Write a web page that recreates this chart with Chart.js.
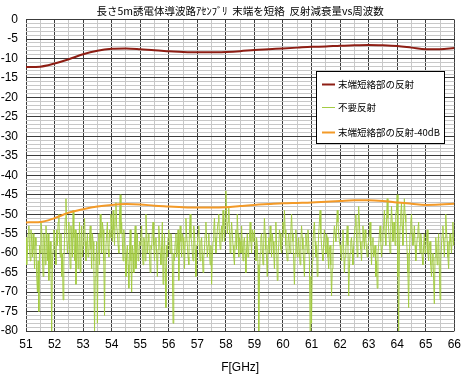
<!DOCTYPE html>
<html lang="ja">
<head>
    <meta charset="UTF-8">
    <title>反射減衰量vs周波数</title>
    <script src="https://cdn.jsdelivr.net/npm/chart.js"></script>
    <style>
        body {
            margin: 0;
            background-color: white;
        }

        #chart-container {
            width: 467px;
            height: 375px;
        }
    </style>
</head>
<body>
    <div id="chart-container">
        <canvas id="returnLossChart" width="467" height="375"></canvas>
    </div>
    <script>
        // 末端短絡部の反射 (dB) read at these frequencies (GHz)
        const shortFreq = [51, 51.5, 52, 52.5, 53, 53.5, 54, 54.5, 55, 55.5, 56, 56.5, 57, 57.5, 58, 58.5,
            59, 59.5, 60, 60.5, 61, 61.5, 62, 62.5, 63, 63.5, 64, 64.5, 65, 65.5, 66];
        const shortDb = [-12.2, -12.1, -11.3, -10.2, -8.9, -8.0, -7.5, -7.4, -7.6, -7.9, -8.1, -8.3, -8.4, -8.4, -8.3, -8.1,
            -7.8, -7.6, -7.4, -7.2, -7.0, -6.9, -6.7, -6.6, -6.5, -6.6, -6.8, -7.2, -7.6, -7.6, -7.3];

        // 末端短絡部の反射-40dB
        const shiftedDb = [-52.1, -52.0, -51.0, -49.6, -48.7, -48.0, -47.6, -47.4, -47.5, -47.8, -48.0, -48.2, -48.3, -48.3, -48.2, -47.9,
            -47.6, -47.4, -47.2, -47.1, -47.0, -46.8, -46.6, -46.4, -46.4, -46.6, -47.0, -47.3, -47.6, -47.5, -47.3];

        // 不要反射, one value every 0.025 GHz from 51 GHz (one row per GHz)
        const spurStartGHz = 51;
        const spurStepGHz = 0.025;
        const spurDb = [
            -56, -63, -60, -55, -53, -59, -62, -54, -57, -61, -55, -59, -64, -56, -58, -66, -70, -62, -75, -58, -60, -52, -54, -61, -66, -55, -58, -63, -53, -57, -62, -55, -67, -60, -57, -64, -80, -62, -59, -54,
            -55, -60, -63, -54, -58, -52, -50, -57, -61, -55, -66, -60, -72, -63, -56, -51, -46, -55, -60, -57, -52, -59, -64, -53, -57, -61, -49, -56, -62, -54, -68, -60, -55, -64, -59, -52, -65, -58, -53, -61,
            -58, -54, -51, -57, -62, -58, -55, -61, -60, -56, -53, -59, -64, -55, -57, -62, -80, -66, -62, -57, -78, -60, -55, -63, -50, -56, -60, -52, -54, -62, -76, -60, -58, -55, -52, -59, -61, -54, -56, -50,
            -53, -57, -49, -54, -58, -51, -47, -53, -55, -58, -60, -50, -45, -55, -52, -57, -62, -54, -56, -61, -66, -60, -58, -63, -69, -59, -54, -62, -70, -58, -60, -65, -57, -53, -64, -59, -55, -62, -61, -57,
            -58, -55, -53, -60, -63, -56, -57, -62, -50, -54, -60, -57, -55, -61, -65, -58, -59, -54, -52, -58, -62, -57, -56, -60, -66, -59, -53, -56, -60, -63, -58, -52, -68, -61, -55, -64, -74, -58, -61, -56,
            -54, -58, -60, -55, -57, -63, -78, -60, -62, -57, -55, -61, -59, -54, -67, -58, -53, -57, -61, -55, -56, -59, -64, -57, -51, -55, -58, -61, -63, -54, -50, -56, -57, -60, -62, -53, -55, -59, -66, -58,
            -58, -55, -53, -59, -62, -57, -56, -60, -65, -61, -59, -55, -52, -57, -61, -58, -55, -60, -63, -58, -68, -61, -57, -54, -51, -56, -60, -57, -54, -52, -50, -56, -59, -55, -53, -57, -49, -53, -57, -51,
            -44, -50, -55, -52, -48, -54, -60, -56, -52, -55, -58, -61, -63, -57, -54, -59, -50, -55, -61, -56, -57, -60, -53, -58, -62, -57, -56, -60, -65, -59, -55, -61, -59, -56, -52, -57, -60, -54, -57, -55,
            -54, -58, -62, -56, -58, -63, -80, -66, -60, -56, -55, -59, -63, -57, -51, -55, -59, -61, -66, -58, -56, -60, -53, -57, -61, -55, -57, -60, -64, -57, -52, -58, -67, -61, -58, -54, -55, -59, -60, -56,
            -52, -55, -49, -54, -58, -60, -62, -57, -55, -58, -60, -54, -50, -55, -57, -62, -68, -60, -54, -57, -61, -59, -56, -60, -63, -57, -53, -56, -59, -62, -66, -58, -55, -57, -60, -54, -57, -62, -80, -66,
            -78, -62, -57, -54, -52, -57, -61, -58, -66, -60, -55, -52, -49, -55, -58, -60, -62, -57, -54, -58, -60, -55, -56, -61, -64, -59, -58, -63, -71, -64, -60, -56, -53, -55, -57, -53, -49, -52, -55, -57,
            -58, -60, -62, -57, -54, -59, -65, -61, -59, -56, -53, -58, -71, -64, -60, -57, -56, -59, -63, -58, -55, -53, -50, -56, -61, -54, -48, -52, -57, -59, -62, -57, -53, -56, -59, -54, -56, -59, -61, -58,
            -57, -55, -52, -58, -63, -57, -56, -61, -60, -58, -66, -62, -69, -60, -58, -55, -53, -57, -61, -58, -55, -53, -49, -55, -58, -52, -46, -51, -54, -57, -60, -53, -48, -52, -57, -55, -52, -58, -50, -49,
            -45, -66, -80, -60, -53, -50, -47, -53, -58, -51, -46, -50, -52, -56, -60, -65, -74, -61, -55, -52, -50, -55, -58, -57, -53, -58, -62, -59, -56, -54, -52, -57, -60, -55, -57, -61, -63, -58, -55, -60,
            -59, -56, -54, -60, -62, -58, -57, -63, -66, -62, -60, -67, -73, -61, -56, -59, -63, -58, -55, -64, -72, -62, -58, -55, -53, -57, -61, -56, -50, -54, -57, -61, -64, -58, -55, -57, -60, -56, -52, -58,
            -57
        ];

        const seriesLabels = ['末端短絡部の反射', '不要反射', '末端短絡部の反射-40dB'];
        const chartTitle = '長さ5m誘電体導波路ｱｾﾝﾌﾞﾘ  末端を短絡  反射減衰量vs周波数';

        const majorGrid = '#3c3c3c';
        const minorGrid = '#c8c8c8';
        const tickFont = { family: '"Liberation Sans Narrow", "Liberation Sans"', size: 12 };

        function toPoints(xs, ys) {
            return ys.map((y, i) => ({ x: xs[i], y: y }));
        }

        const spurPoints = spurDb.map((y, i) => ({
            x: Math.round((spurStartGHz + i * spurStepGHz) * 1000) / 1000,
            y: y
        }));

        // legend box drawn inside the plot, like the original sheet
        const boxLegend = {
            id: 'boxLegend',
            afterDraw(chart) {
                const ctx = chart.ctx;
                const left = 316, top = 71, width = 128, height = 72;
                ctx.save();
                ctx.fillStyle = 'white';
                ctx.fillRect(left, top, width, height);
                ctx.strokeStyle = '#000';
                ctx.lineWidth = 1;
                ctx.strokeRect(left + 0.5, top + 0.5, width, height);
                ctx.font = '9.5px "Noto Sans CJK JP"';
                ctx.textBaseline = 'middle';
                const rows = [84, 107, 132];
                chart.data.datasets.forEach((ds, i) => {
                    const y = rows[i];
                    ctx.strokeStyle = ds.borderColor;
                    ctx.lineWidth = ds.borderWidth;
                    ctx.beginPath();
                    ctx.moveTo(322, y + 0.5);
                    ctx.lineTo(335, y + 0.5);
                    ctx.stroke();
                    ctx.fillStyle = '#000';
                    ctx.fillText(ds.label, 338, y);
                });
                ctx.restore();
            }
        };

        const config = {
            type: 'line',
            data: {
                datasets: [
                    {
                        label: seriesLabels[0],
                        data: toPoints(shortFreq, shortDb),
                        borderColor: '#8e1e14',
                        borderWidth: 2,
                        pointRadius: 0,
                        cubicInterpolationMode: 'monotone',
                        order: 1
                    },
                    {
                        label: seriesLabels[1],
                        data: spurPoints,
                        borderColor: '#a4cc44',
                        borderWidth: 1,
                        pointRadius: 0,
                        order: 3
                    },
                    {
                        label: seriesLabels[2],
                        data: toPoints(shortFreq, shiftedDb),
                        borderColor: '#f39a28',
                        borderWidth: 2,
                        pointRadius: 0,
                        cubicInterpolationMode: 'monotone',
                        order: 2
                    }
                ]
            },
            options: {
                responsive: false,
                animation: false,
                layout: {
                    padding: { left: 0, right: 9, top: 0, bottom: 0 }
                },
                scales: {
                    x: {
                        type: 'linear',
                        min: 51,
                        max: 66,
                        grid: {
                            color: (c) => Number.isInteger(c.tick.value) ? majorGrid : minorGrid,
                            drawTicks: false
                        },
                        border: { display: false },
                        ticks: {
                            stepSize: 0.5,
                            autoSkip: false,
                            maxRotation: 0,
                            padding: 6,
                            color: '#000',
                            font: tickFont,
                            callback: (v) => Number.isInteger(v) ? String(v) : ''
                        },
                        title: {
                            display: true,
                            text: 'F[GHz]',
                            color: '#000',
                            padding: { top: 6, bottom: 0 },
                            font: tickFont
                        },
                        afterFit: (scale) => { scale.height = 44; }
                    },
                    y: {
                        min: -80,
                        max: 0,
                        grid: {
                            color: (c) => c.tick.value % 5 === 0 ? majorGrid : minorGrid,
                            drawTicks: false
                        },
                        border: { display: false },
                        ticks: {
                            stepSize: 1,
                            maxTicksLimit: 1000,
                            autoSkip: false,
                            padding: 8,
                            color: '#000',
                            font: tickFont,
                            callback: (v) => v % 5 === 0 ? String(v) : ''
                        },
                        afterFit: (scale) => { scale.width = 26; }
                    }
                },
                plugins: {
                    legend: { display: false },
                    tooltip: { enabled: false },
                    title: {
                        display: true,
                        text: chartTitle,
                        fullSize: false,
                        color: '#000',
                        font: { family: '"Noto Sans CJK JP"', size: 10.5, weight: 'normal' },
                        padding: { top: 5, bottom: 2 }
                    }
                }
            },
            plugins: [boxLegend]
        };

        window.onload = () => {
            const ctx = document.getElementById('returnLossChart').getContext('2d');
            new Chart(ctx, config);
        };
    </script>
</body>
</html>
